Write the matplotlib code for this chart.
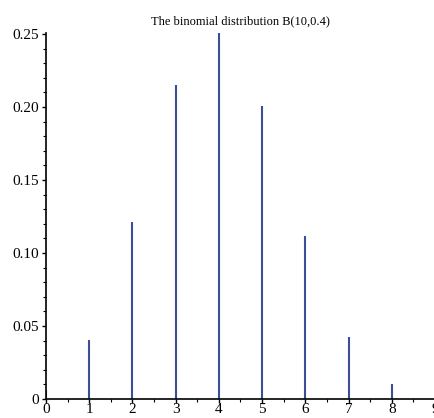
import matplotlib
matplotlib.use("Agg")
import matplotlib.pyplot as plt
from matplotlib.ticker import MultipleLocator, FixedFormatter, FixedLocator

# values, B(10,0.4)
k_values = [0, 1, 2, 3, 4, 5, 6, 7, 8]
probs = [0.006, 0.0403, 0.1209, 0.2150, 0.2508, 0.2007, 0.1115, 0.0425, 0.0106]
y_ticks = [0, 0.05, 0.10, 0.15, 0.20, 0.25]
y_labels = ["0", "0.05", "0.10", "0.15", "0.20", "0.25"]

plt.rcParams['font.family'] = ['Liberation Serif', 'DejaVu Serif']

fig = plt.figure(figsize=(4.35, 4.18), dpi=100)
ax = fig.add_axes([0.1057, 0.0455, 0.8943, 0.876])

bar_color = "#3b4f96"
ax.vlines(k_values, 0, probs, colors=bar_color, linewidth=1.5)

ax.set_xlim(0, 9)
ax.set_ylim(0, 0.2508)

ax.spines['top'].set_visible(False)
ax.spines['right'].set_visible(False)
ax.spines['left'].set_linewidth(1.2)
ax.spines['bottom'].set_linewidth(1.2)

ax.xaxis.set_major_locator(MultipleLocator(1))
ax.xaxis.set_minor_locator(MultipleLocator(0.5))
ax.yaxis.set_major_locator(FixedLocator(y_ticks))
ax.yaxis.set_major_formatter(FixedFormatter(y_labels))
ax.yaxis.set_minor_locator(MultipleLocator(0.01))

ax.tick_params(which='major', length=3, width=1, labelsize=11, pad=2)
ax.tick_params(axis='x', which='major', pad=0)
ax.tick_params(which='minor', length=2, width=0.8)

ax.set_title("The binomial distribution B(10,0.4)", fontsize=9, pad=6)

fig.savefig("out.png", dpi=100)
